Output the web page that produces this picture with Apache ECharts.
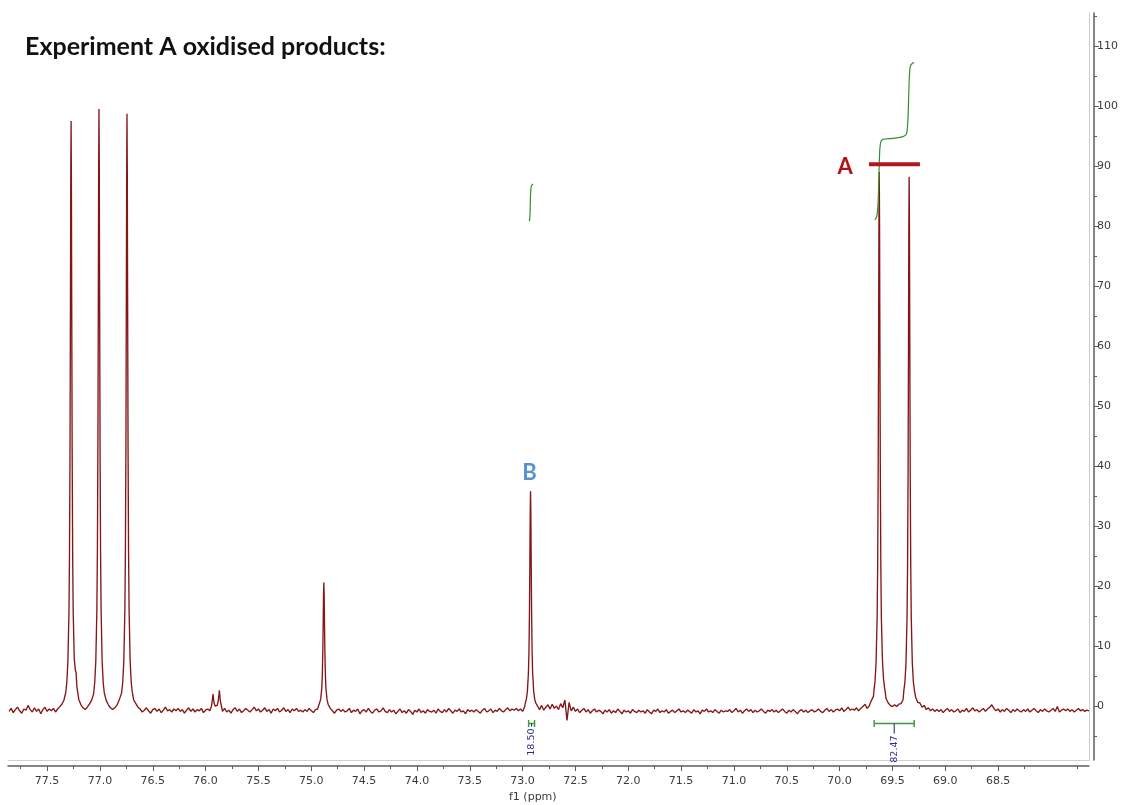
<!DOCTYPE html>
<html>
<head>
<meta charset="utf-8">
<title>Experiment A oxidised products</title>
<script src="https://cdn.jsdelivr.net/npm/echarts@6/dist/echarts.min.js"></script>
<style>
  html, body { margin: 0; padding: 0; background: #ffffff; }
  #chart { width: 1130px; height: 805px; }
</style>
</head>
<body>
<div id="chart"></div>
<script>
// ---- 13C spectrum, f1 (ppm) ----
// Baseline is sampled on a regular 0.02 ppm grid, starting at 77.86 ppm.
// null marks grid points where a resolved peak segment (below) takes over.
const gridStartPpm = 77.86;
const gridStepPpm = 0.02;
const baselineRows = [
  /* 77.86 */ [-0.9, -0.4, -1.1, -0.6, -0.2, -0.8, -1.2, -0.5, -0.7, 0.1, -0.6, -1.0, -0.3, -0.9, -0.5, -1.3, -0.6, -0.2, -0.9, -0.5],
  /* 77.46 */ [-0.8, -0.4, -1.0, -0.5, -0.1, 0.3, 1.0, null, null, null, null, null, null, 1.1, 0.2, -0.3, -0.6, -0.2, 0.3, 0.9],
  /* 77.06 */ [2.0, null, null, null, null, null, 0.9, 0.2, -0.3, -0.6, -0.3, 0.1, 0.9, 1.9, null, null, null, null, null, 1.0],
  /* 76.66 */ [0.4, -0.2, -0.5, -1.0, -0.7, -0.3, -0.8, -1.2, -0.6, -0.4, -0.9, -0.5, -1.1, -0.7, -0.2, -0.8, -0.6, -1.0, -0.5, -0.8],
  /* 76.26 */ [-0.4, -0.9, -0.6, -1.2, -0.7, -0.3, -0.9, -0.5, -1.0, -0.6, -0.8, -0.4, -1.1, -0.7, -0.5, -0.8, null, null, null, null],
  /* 75.86 */ [null, -0.9, -0.4, -1.0, -0.7, -1.2, -0.6, -0.3, -0.9, -0.5, -1.1, -0.8, -0.4, -0.7, -1.0, -0.6, -0.2, -0.8, -0.5, -1.0],
  /* 75.46 */ [-0.7, -0.3, -0.9, -0.6, -1.2, -0.5, -0.8, -0.4, -1.0, -0.7, -0.3, -0.9, -0.6, -1.1, -0.5, -0.8, -0.4, -0.9, -0.7, -1.0],
  /* 75.06 */ [-0.6, -0.9, -0.4, -0.8, -1.1, -0.6, -0.5, null, null, null, null, null, -0.4, -0.8, -1.2, -0.7, -0.5, -0.9, -0.6, -1.0],
  /* 74.66 */ [-0.8, -0.4, -1.1, -0.7, -0.9, -0.5, -1.3, -0.8, -0.6, -1.0, -0.4, -0.9, -1.2, -0.7, -0.5, -1.0, -0.8, -0.3, -0.9, -1.1],
  /* 74.26 */ [-0.6, -1.0, -0.7, -1.3, -0.9, -0.5, -1.1, -0.8, -1.2, -0.6, -0.9, -1.4, -0.7, -1.0, -0.5, -1.1, -0.8, -1.2, -0.6, -0.9],
  /* 73.86 */ [-1.0, -0.7, -1.2, -0.5, -0.9, -1.1, -0.6, -1.0, -0.4, -0.8, -1.2, -0.7, -0.9, -0.5, -1.0, -0.8, -1.3, -0.6, -0.9, -0.7],
  /* 73.46 */ [-1.0, -0.6, -0.9, -1.2, -0.7, -0.4, -1.0, -0.8, -0.5, -1.1, -0.7, -0.9, -0.4, -0.8, -1.0, -0.6, -0.3, -0.8, -0.5, -0.7],
  /* 73.06 */ [-0.4, -0.8, -0.5, -0.9, -0.1, null, null, null, null, null, 0.2, -0.6, 0.1, -0.7, -0.2, 0.2, -0.5, 0.3, -0.4, 0.0],
  /* 72.66 */ [-0.6, 0.4, -0.3, 1.0, -2.4, 0.6, -0.8, -0.2, -0.9, -0.5, -1.1, -0.7, -0.4, -1.0, -0.6, -1.2, -0.8, -0.5, -1.0, -0.7],
  /* 72.26 */ [-0.9, -1.3, -0.7, -1.0, -0.6, -1.2, -0.8, -1.1, -0.5, -0.9, -1.3, -0.7, -1.0, -0.8, -1.2, -0.6, -0.9, -1.1, -0.7, -1.0],
  /* 71.86 */ [-0.8, -1.2, -0.6, -1.0, -1.3, -0.7, -0.9, -0.5, -1.1, -0.8, -1.0, -0.6, -1.2, -0.9, -0.7, -1.1, -0.8, -0.5, -1.0, -0.8],
  /* 71.46 */ [-1.1, -0.7, -0.9, -1.2, -0.6, -1.0, -0.8, -1.3, -0.7, -0.9, -0.5, -1.0, -0.8, -1.1, -0.6, -0.9, -1.2, -0.7, -1.0, -0.8],
  /* 71.06 */ [-0.9, -0.6, -1.1, -0.8, -0.4, -1.0, -0.7, -1.2, -0.8, -0.5, -0.9, -0.6, -1.1, -0.7, -1.0, -0.8, -0.5, -0.9, -1.2, -0.7],
  /* 70.66 */ [-0.9, -0.6, -1.0, -0.7, -1.1, -0.8, -0.5, -0.9, -1.2, -0.7, -1.0, -0.6, -0.9, -1.3, -0.8, -0.6, -1.0, -0.7, -1.1, -0.8],
  /* 70.26 */ [-0.6, -1.0, -0.8, -0.5, -0.9, -1.1, -0.7, -0.4, -0.9, -0.6, -1.0, -0.7, -0.5, -0.8, -0.3, -0.9, -0.6, -0.2, -0.7, -0.5],
  /* 69.86 */ [-0.7, -0.3, -0.8, -0.4, -0.1, 0.3, -0.4, 0.0, 0.9, 1.6, null, null, null, null, null, 1.2, 0.5, 0.1, -0.1, 0.2],
  /* 69.46 */ [-0.1, 0.3, 0.4, 1.0, null, null, null, null, null, 1.4, 0.6, 0.5, -0.2, 0.1, -0.6, -0.3, -0.8, -0.5, -0.9, -0.6],
  /* 69.06 */ [-0.9, -0.6, -1.1, -0.7, -0.4, -0.9, -0.6, -1.0, -0.8, -0.5, -1.1, -0.7, -0.9, -0.4, -1.0, -0.7, -0.3, -0.8, -0.6, -1.0],
  /* 68.66 */ [-0.7, -0.4, -0.9, -0.5, -0.2, 0.2, -0.4, -0.8, -0.5, -1.0, -0.6, -0.9, -0.4, -0.7, -1.1, -0.6, -0.9, -0.5, -0.8, -1.0],
  /* 68.26 */ [-0.6, -0.9, -0.5, -1.0, -0.7, -0.4, -0.8, -1.1, -0.6, -0.9, -0.5, -0.8, -1.0, -0.7, -0.4, -0.9, -0.1, -1.0, -0.7, -0.5],
  /* 67.86 */ [-0.8, -0.5, -0.9, -0.6, -1.0, -0.7, -0.4, -0.8, -0.6, -0.9, -0.7, -0.8]
];

// Resolved peak segments, [ppm, intensity]
const peakCDCl3a = [[77.323, 2.3], [77.313, 4.0], [77.303, 7.5], [77.293, 15.8], [77.288, 25.3], [77.283, 43.2], [77.279, 67.3], [77.276, 87.7], [77.273, 97.5], [77.270, 87.6], [77.267, 67.1], [77.263, 43.0], [77.258, 25.2], [77.253, 15.6], [77.243, 7.9], [77.233, 6.0], [77.226, 5.6], [77.218, 3.2]];
const peakCDCl3b = [[77.059, 2.3], [77.049, 4.0], [77.039, 7.5], [77.029, 16.1], [77.024, 25.8], [77.019, 44.0], [77.015, 68.6], [77.012, 89.5], [77.009, 99.5], [77.006, 89.4], [77.003, 68.5], [76.999, 43.9], [76.994, 25.7], [76.989, 16.0], [76.979, 7.4], [76.969, 3.9], [76.959, 2.2]];
const peakCDCl3c = [[76.794, 2.3], [76.784, 4.0], [76.774, 7.5], [76.764, 15.9], [76.759, 25.6], [76.754, 43.7], [76.750, 68.1], [76.747, 88.8], [76.744, 98.7], [76.741, 88.7], [76.738, 68.0], [76.734, 43.6], [76.729, 25.5], [76.724, 15.9], [76.714, 7.5], [76.704, 4.0], [76.694, 2.3]];
const peakDoublet76 = [[75.955, -0.5], [75.945, -0.1], [75.940, 0.5], [75.935, 1.2], [75.930, 2.0], [75.925, 1.2], [75.920, 0.5], [75.910, 0.0], [75.900, -0.2], [75.890, 0.1], [75.880, 0.9], [75.875, 1.7], [75.870, 2.6], [75.865, 1.7], [75.860, 0.8], [75.850, 0.0], [75.845, -0.3]];
const peak749 = [[74.931, 0.0], [74.921, 0.3], [74.911, 1.1], [74.901, 2.9], [74.896, 4.9], [74.891, 8.8], [74.887, 14.0], [74.884, 18.5], [74.881, 20.6], [74.878, 18.5], [74.875, 14.0], [74.871, 8.8], [74.866, 4.9], [74.861, 2.9], [74.851, 1.1], [74.841, 0.3], [74.831, 0.0]];
const peakB = [[72.975, 0.5], [72.965, 1.1], [72.955, 2.4], [72.945, 5.5], [72.940, 9.0], [72.935, 15.7], [72.931, 24.6], [72.928, 32.2], [72.925, 35.8], [72.922, 32.2], [72.919, 24.6], [72.915, 15.7], [72.910, 9.0], [72.905, 5.5], [72.895, 2.4], [72.885, 1.1], [72.875, 0.5]];
const peakA1 = [[69.675, 2.6], [69.665, 4.1], [69.655, 7.2], [69.645, 14.8], [69.640, 23.4], [69.635, 39.7], [69.631, 61.5], [69.628, 80.1], [69.625, 89.0], [69.622, 80.1], [69.619, 61.5], [69.615, 39.7], [69.610, 23.4], [69.605, 14.8], [69.595, 7.8], [69.585, 4.6], [69.575, 3.1]];
const peakA2 = [[69.392, 2.6], [69.382, 4.0], [69.372, 7.1], [69.362, 14.7], [69.357, 23.2], [69.352, 39.3], [69.348, 61.0], [69.345, 79.4], [69.342, 88.2], [69.339, 79.4], [69.336, 61.0], [69.332, 39.3], [69.327, 23.2], [69.322, 14.7], [69.312, 7.1], [69.302, 4.0], [69.292, 2.6]];

// Integral traces, [ppm, trace height]
const integralTraceB = [[72.936, 80.8], [72.931, 81.5], [72.928, 83.2], [72.925, 85.2], [72.921, 86.3], [72.914, 86.8], [72.900, 87.0]];
const integralTraceA = [[69.666, 81.0], [69.648, 81.6], [69.636, 84.0], [69.628, 88.2], [69.621, 92.3], [69.612, 93.9], [69.595, 94.4], [69.500, 94.6], [69.400, 94.9], [69.368, 95.3], [69.354, 97.6], [69.346, 101.8], [69.339, 105.3], [69.330, 106.7], [69.312, 107.1], [69.296, 107.3]];

// Integration ranges: [from ppm, to ppm] and their integrals
const integralRanges = [[69.673, 69.294], [72.943, 72.887]];
const integralValues = ['82.47', '18.50'];

// Peak labels: [ppm, intensity, text]
const peakLabelA = [69.947, 89.8, 'A'];
const peakLabelB = [72.934, 38.8, 'B'];
const markerBarA = [[69.722, 90.3], [69.240, 90.3]];

// Axis ticks
const xMajorTicks = [77.5, 77.0, 76.5, 76.0, 75.5, 75.0, 74.5, 74.0, 73.5, 73.0, 72.5, 72.0, 71.5, 71.0, 70.5, 70.0, 69.5, 69.0, 68.5];
const xMinorTicks = [77.75, 77.25, 76.75, 76.25, 75.75, 75.25, 74.75, 74.25, 73.75, 73.25, 72.75, 72.25, 71.75, 71.25, 70.75, 70.25, 69.75, 69.25, 68.75, 68.25, 67.75];
const yMajorTicks = [0, 10, 20, 30, 40, 50, 60, 70, 80, 90, 100, 110];
const yMinorTicks = [-5, 5, 15, 25, 35, 45, 55, 65, 75, 85, 95, 105, 115];

const xRange = [67.64, 77.87];
const yRange = [-9.0, 115.5];

// ---- assemble the spectrum trace ----
function buildSpectrum() {
  const pts = [];
  baselineRows.flat().forEach(function (v, i) {
    if (v !== null) pts.push([+(gridStartPpm - i * gridStepPpm).toFixed(3), v]);
  });
  [peakCDCl3a, peakCDCl3b, peakCDCl3c, peakDoublet76, peak749, peakB, peakA1, peakA2]
    .forEach(function (seg) { seg.forEach(function (p) { pts.push(p); }); });
  pts.sort(function (a, b) { return b[0] - a[0]; });
  return pts;
}

const chart = echarts.init(document.getElementById('chart'), null, { renderer: 'canvas' });

const axisColor = '#5d5d5d';
const frameColor = '#cfcfcf';
const tickFont = { fontFamily: 'DejaVu Sans', fontSize: 11, color: '#3a3a3a' };

function valueX(extra) {
  return Object.assign({
    type: 'value', inverse: true, min: xRange[0], max: xRange[1], position: 'bottom',
    splitLine: { show: false }, axisPointer: { show: false }
  }, extra);
}
function valueY(extra) {
  return Object.assign({
    type: 'value', min: yRange[0], max: yRange[1], position: 'right',
    splitLine: { show: false }
  }, extra);
}

const option = {
  animation: false,
  backgroundColor: '#ffffff',
  grid: { left: 8, right: 41, top: 13, bottom: 45, containLabel: false },
  xAxis: [
    valueX({
      offset: 6,
      axisLine: { show: true, onZero: false, lineStyle: { color: axisColor, width: 1.5 } },
      axisTick: { show: true, customValues: xMajorTicks, length: 5, lineStyle: { color: axisColor, width: 1 } },
      axisLabel: Object.assign({ show: true, customValues: xMajorTicks, margin: 10,
        formatter: function (v) { return v.toFixed(1); } }, tickFont)
    }),
    valueX({
      offset: 6,
      axisLine: { show: false, onZero: false },
      axisTick: { show: true, customValues: xMinorTicks, length: 3, lineStyle: { color: axisColor, width: 1 } },
      axisLabel: { show: false }
    }),
    valueX({
      offset: 0,
      axisLine: { show: true, onZero: false, lineStyle: { color: frameColor, width: 1 } },
      axisTick: { show: false }, axisLabel: { show: false }
    })
  ],
  yAxis: [
    valueY({
      offset: 5,
      axisLine: { show: true, onZero: false, lineStyle: { color: axisColor, width: 1.5 } },
      axisTick: { show: true, customValues: yMajorTicks, length: 5, lineStyle: { color: axisColor, width: 1 } },
      axisLabel: Object.assign({ show: true, customValues: yMajorTicks, margin: 3 }, tickFont)
    }),
    valueY({
      offset: 5,
      axisLine: { show: false, onZero: false },
      axisTick: { show: true, customValues: yMinorTicks, length: 3, lineStyle: { color: axisColor, width: 1 } },
      axisLabel: { show: false }
    }),
    valueY({
      offset: 0,
      axisLine: { show: true, onZero: false, lineStyle: { color: frameColor, width: 1 } },
      axisTick: { show: false }, axisLabel: { show: false }
    })
  ],
  graphic: [
    {
      type: 'text', left: 25, top: 34,
      style: { text: 'Experiment A oxidised products:', font: 'bold 25px Lato', fill: '#111111' }
    },
    {
      type: 'text', left: 509, top: 792,
      style: { text: 'f1 (ppm)', font: '11px "DejaVu Sans"', fill: '#3a3a3a' }
    }
  ],
  series: [
    {
      name: 'spectrum', type: 'line', data: buildSpectrum(),
      showSymbol: false, symbol: 'none', sampling: false, clip: true,
      lineStyle: { color: '#861616', width: 1.35 }, z: 2
    },
    {
      name: 'integral B', type: 'line', data: integralTraceB, showSymbol: false, symbol: 'none', smooth: 0.3,
      lineStyle: { color: '#2f8f2f', width: 1.2 }, z: 3
    },
    {
      name: 'integral A', type: 'line', data: integralTraceA, showSymbol: false, symbol: 'none', smooth: 0.3,
      lineStyle: { color: '#2f8f2f', width: 1.2 }, z: 3
    },
    {
      name: 'marker A', type: 'line', data: markerBarA, showSymbol: false, symbol: 'none',
      lineStyle: { color: '#b3161c', width: 4 }, z: 4
    },
    {
      name: 'peak labels', type: 'scatter', symbolSize: 0, z: 5, silent: true,
      itemStyle: { opacity: 1 },
      data: [
        { value: [peakLabelA[0], peakLabelA[1]], name: peakLabelA[2],
          label: { color: '#b01218' } },
        { value: [peakLabelB[0], peakLabelB[1]], name: peakLabelB[2],
          label: { color: '#5794cc' } }
      ],
      label: {
        show: true, position: 'inside', formatter: '{b}',
        fontFamily: 'Lato', fontWeight: 'bold', fontSize: 22,
        textBorderWidth: 0, textShadowBlur: 0, opacity: 1
      }
    },
    {
      name: 'integration ranges', type: 'custom', z: 6, silent: true,
      data: integralRanges,
      renderItem: function (params, api) {
        const level = -2.8;
        const a = api.coord([api.value(0), level]);
        const b = api.coord([api.value(1), level]);
        const y = Math.round(a[1]) + 0.5;
        const mid = (a[0] + b[0]) / 2;
        const narrow = Math.abs(b[0] - a[0]) < 15;
        const tick = narrow ? 3 : 10;
        const green = { stroke: '#3d9d3d', lineWidth: 1.5 };
        return {
          type: 'group',
          children: [
            { type: 'line', shape: { x1: a[0], y1: y, x2: b[0], y2: y }, style: green },
            { type: 'line', shape: { x1: a[0], y1: y - 3.5, x2: a[0], y2: y + 3.5 }, style: green },
            { type: 'line', shape: { x1: b[0], y1: y - 3.5, x2: b[0], y2: y + 3.5 }, style: green },
            { type: 'line', shape: { x1: mid, y1: y, x2: mid, y2: y + tick },
              style: { stroke: '#1f1f5a', lineWidth: 1 } },
            { type: 'text', x: mid, y: y + tick + 2, rotation: Math.PI / 2,
              style: { text: integralValues[params.dataIndex],
                x: 0, y: 0, align: 'right', verticalAlign: 'middle',
                font: '9.5px "DejaVu Sans"', fill: '#2e2e8e' } }
          ]
        };
      }
    }
  ]
};

chart.setOption(option);
</script>
</body>
</html>
